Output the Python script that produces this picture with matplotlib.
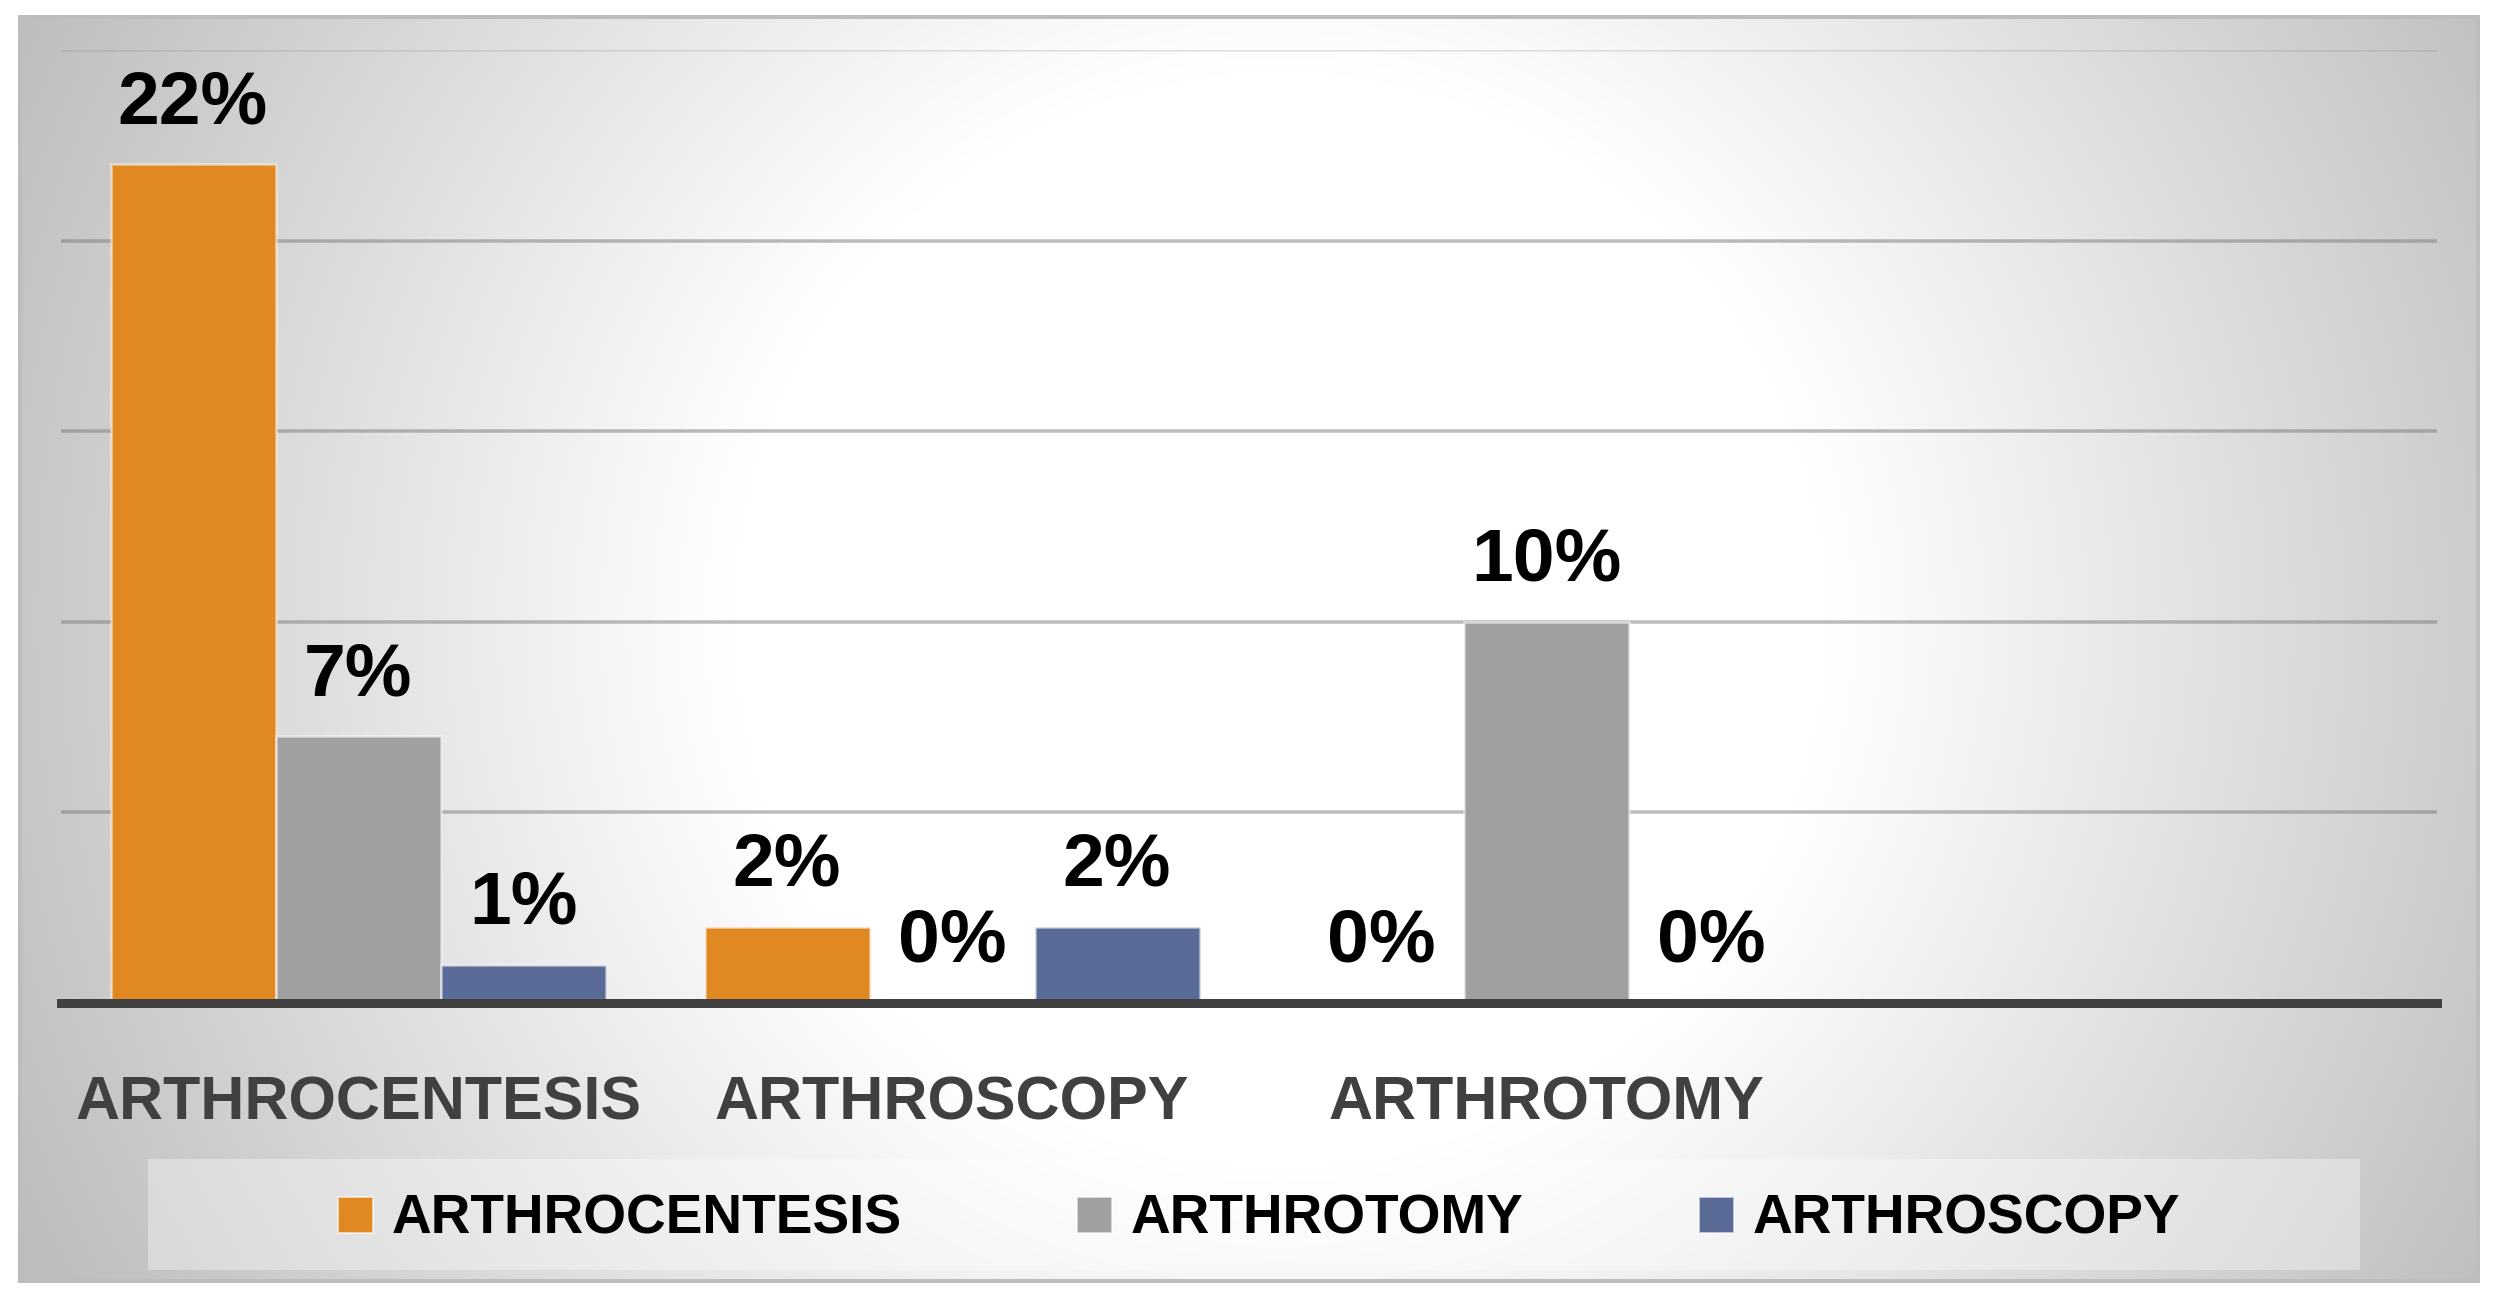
import numpy as np
import matplotlib
matplotlib.use('Agg')
import matplotlib.pyplot as plt
from matplotlib.patches import Rectangle, Patch
from matplotlib import font_manager as fm

# ---------------- data ----------------
categories = ['ARTHROCENTESIS', 'ARTHROSCOPY', 'ARTHROTOMY', '']
series_names = ['ARTHROCENTESIS', 'ARTHROTOMY', 'ARTHROSCOPY']
arthrocentesis = [22, 2, 0, np.nan]
arthrotomy = [7, 0, 10, np.nan]
arthroscopy = [1, 2, 0, np.nan]
series_colors = ['#E08923', '#A0A0A0', '#5B6B98']
y_ticks = [0, 5, 10, 15, 20, 25]

# ---------------- setup ----------------
W, H = 2502, 1301
DPI = 100


def pt(px):
    return px * 72.0 / DPI


names = {f.name for f in fm.fontManager.ttflist}
if 'Liberation Sans Narrow' in names:
    label_family = 'Liberation Sans Narrow'
    cat_em, leg_em = 70, 63
else:
    label_family = 'Liberation Sans'
    cat_em, leg_em = 61, 55
value_family = 'Liberation Sans'
value_em = 75

fig = plt.figure(figsize=(W / DPI, H / DPI), dpi=DPI)
fig.patch.set_facecolor('white')

# background panel with radial gradient
bg = fig.add_axes([0, 0, 1, 1], zorder=0)
bg.set_xlim(0, W)
bg.set_ylim(H, 0)
bg.axis('off')
px0, py0, px1, py1 = 18, 15, 2480, 1283
xs = np.linspace(px0, px1, 800)
ys = np.linspace(py0, py1, 420)
X, Y = np.meshgrid(xs, ys)
cx, cy = 1280, 620
r = np.hypot(X - cx, Y - cy)
g = 255 - 66 * np.clip((r - 550) / 850.0, 0, 1)
img = np.dstack([g, g, g]) / 255.0
bg.imshow(img, extent=(px0, px1, py1, py0), aspect='auto',
          interpolation='bilinear', zorder=0)
bg.add_patch(Rectangle((px0 + 2, py0 + 2), px1 - px0 - 4, py1 - py0 - 4,
                       fill=False, edgecolor='#BDBDBD', lw=pt(4), zorder=1))
# legend box
bg.add_patch(Rectangle((148, 1159), 2212, 111, facecolor='white', alpha=0.35,
                       edgecolor='none', zorder=1))

# main axes
ax_left, ax_right, ax_top, ax_bottom = 61, 2437, 50, 1003
ax = fig.add_axes([ax_left / W, 1 - ax_bottom / H,
                   (ax_right - ax_left) / W, (ax_bottom - ax_top) / H], zorder=2)
ax.set_facecolor('none')

x = np.arange(len(categories))
bw = 165.0 / 594.0
offsets = [-bw, 0.0, bw]
for vals, off, col in zip([arthrocentesis, arthrotomy, arthroscopy], offsets, series_colors):
    v = np.array(vals, dtype=float)
    m = ~np.isnan(v)
    ax.bar(x[m] + off, v[m], width=bw, color=col, edgecolor=(1, 1, 1, 0.55),
           linewidth=pt(2.5), zorder=3)
    for xi, vi in zip(x[m] + off, v[m]):
        ax.annotate(f'{vi:.0f}%', (xi, vi), xytext=(0, pt(41)),
                    textcoords='offset points', ha='center', va='baseline',
                    fontsize=pt(value_em), fontweight='bold', color='black',
                    family=value_family, zorder=6)

ax.set_xlim(-0.5, len(categories) - 0.5)
ax.set_ylim(0, 25)
ax.set_yticks(y_ticks)
ax.yaxis.grid(True, color='#7A7A7A', alpha=0.5, linewidth=pt(3.5))
ax.set_axisbelow(True)
ax.tick_params(axis='y', length=0, labelleft=False)
glines = ax.get_ygridlines()
if len(glines):
    glines[-1].set_alpha(0.2)

ax.set_xticks(x)
ax.set_xticklabels(categories, va='baseline', fontsize=pt(cat_em),
                   fontweight='bold', color='#404040', family=label_family)
ax.tick_params(axis='x', length=0, pad=pt(117))

for s in ['top', 'left', 'right']:
    ax.spines[s].set_visible(False)
ax.spines['bottom'].set_color('#404040')
ax.spines['bottom'].set_linewidth(pt(9))
ax.spines['bottom'].set_zorder(5)

# legend
handles = [Patch(facecolor=c, edgecolor=(1, 1, 1, 0.6), linewidth=pt(2)) for c in series_colors]
prop = fm.FontProperties(family=label_family, weight='bold', size=pt(leg_em))
fig.legend(handles, series_names, loc='center', bbox_to_anchor=(1259 / W, 1 - 1220 / H),
           ncol=3, frameon=False, prop=prop,
           handlelength=35.0 / leg_em, handleheight=35.0 / leg_em,
           handletextpad=18.0 / leg_em, columnspacing=176.0 / leg_em,
           borderpad=0.0, labelcolor='black')

fig.savefig('out.png', dpi=DPI, facecolor='white')
